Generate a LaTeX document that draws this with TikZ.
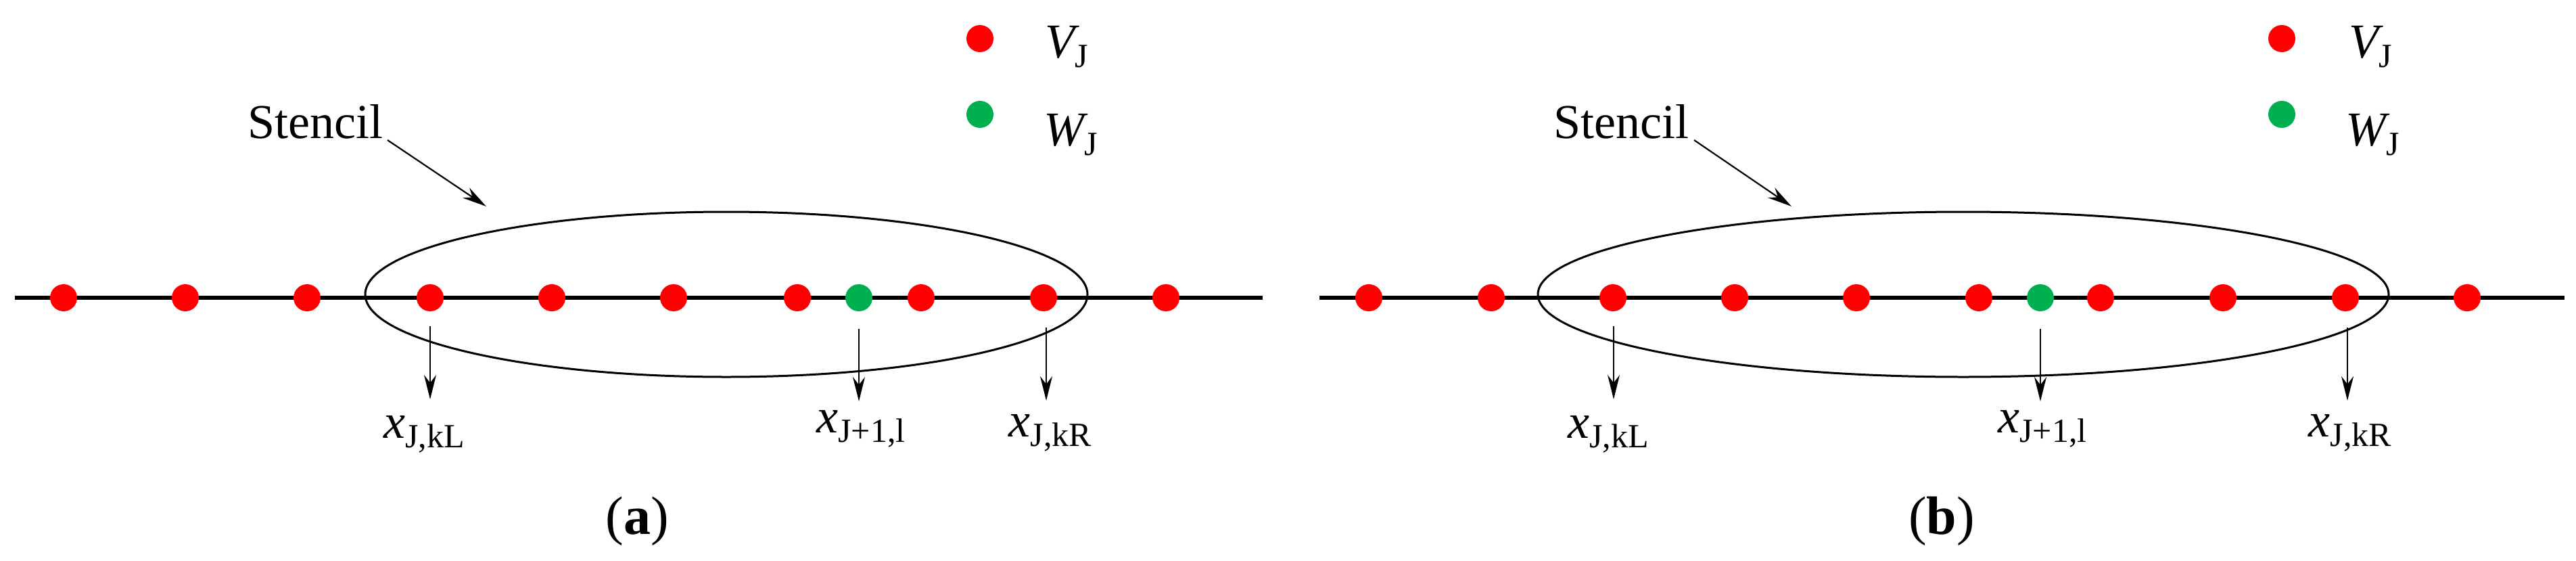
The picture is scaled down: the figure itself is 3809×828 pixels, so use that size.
\documentclass[tikz,border=0pt]{standalone}
\usepackage{fontspec}
\setmainfont{Liberation Serif}
\usetikzlibrary{arrows.meta}
\definecolor{dotred}{RGB}{255,0,0}
\definecolor{dotgreen}{RGB}{0,176,80}
\newcommand{\lbl}[2]{{\itshape #1}\raisebox{-14pt}{\fontsize{50}{55}\selectfont #2}}
\begin{document}
\begin{tikzpicture}[x=1pt,y=-1pt,
  rdot/.style={circle,fill=dotred,inner sep=0pt,minimum size=40pt},
  gdot/.style={circle,fill=dotgreen,inner sep=0pt,minimum size=40pt},
  axis/.style={line width=6pt},
  stencilring/.style={line width=3pt},
  ptr/.style={line width=2.2pt,-{Stealth[length=36pt,width=18pt]}},
  txt/.style={font=\fontsize{72}{80}\selectfont,inner sep=0pt},
  capt/.style={font=\fontsize{80}{90}\selectfont,inner sep=0pt}]
\useasboundingbox (0,0) rectangle (3809,828);
% ---------- panel (a)
\coordinate (aL) at (22,440); \coordinate (aR) at (1867,440);
\draw[axis] (aL) -- (aR);
\draw[stencilring] (1074,435) ellipse [x radius=534,y radius=122];
\foreach \x [count=\i] in {94,274,454,636,816,996,1179,1362,1543,1724}
  \node[rdot] (a\i) at (\x,440) {};
\node[gdot] (ag) at (1270,440) {};
\coordinate (aa1) at (636,482); \coordinate (aa2) at (636,590);
\coordinate (ag1) at (1270,486); \coordinate (ag2) at (1270,593);
\coordinate (ar1) at (1547,484); \coordinate (ar2) at (1547,592);
\draw[ptr] (aa1) -- (aa2); \draw[ptr] (ag1) -- (ag2); \draw[ptr] (ar1) -- (ar2);
\node[txt] (axl) at (627,642) {\lbl{x}{J,kL}};
\node[txt] (axg) at (1273,634) {\lbl{x}{J\textup{+1},l}};
\node[txt] (axr) at (1553,640) {\lbl{x}{J,kR}};
\node[txt] (ast) at (466,180) {Stencil};
\coordinate (asa) at (573,207); \coordinate (asb) at (719,305);
\draw[ptr] (asa) -- (asb);
\node[rdot] (alv) at (1449,57) {};
\node[txt] (alvt) at (1577,69) {\lbl{V}{J}};
\node[gdot] (alw) at (1449,169) {};
\node[txt] (alwt) at (1583,199) {\lbl{W}{J}};
\node[capt] (acap) at (942,770) {(\textbf{a})};
% ---------- panel (b)
\coordinate (bL) at (1951,440); \coordinate (bR) at (3792,440);
\draw[axis] (bL) -- (bR);
\draw[stencilring] (2903,435) ellipse [x radius=629,y radius=122];
\foreach \x [count=\i] in {2024,2205,2385,2565,2745,2926,3106,3287,3468,3648}
  \node[rdot] (b\i) at (\x,440) {};
\node[gdot] (bg) at (3017,440) {};
\coordinate (ba1) at (2386,482); \coordinate (ba2) at (2386,590);
\coordinate (bg1) at (3017,486); \coordinate (bg2) at (3017,593);
\coordinate (br1) at (3471,484); \coordinate (br2) at (3471,592);
\draw[ptr] (ba1) -- (ba2); \draw[ptr] (bg1) -- (bg2); \draw[ptr] (br1) -- (br2);
\node[txt] (bxl) at (2378,642) {\lbl{x}{J,kL}};
\node[txt] (bxg) at (3020,634) {\lbl{x}{J\textup{+1},l}};
\node[txt] (bxr) at (3475,640) {\lbl{x}{J,kR}};
\node[txt] (bst) at (2397,180) {Stencil};
\coordinate (bsa) at (2505,207); \coordinate (bsb) at (2649,305);
\draw[ptr] (bsa) -- (bsb);
\node[rdot] (blv) at (3374,57) {};
\node[txt] (blvt) at (3505,69) {\lbl{V}{J}};
\node[gdot] (blw) at (3374,169) {};
\node[txt] (blwt) at (3508,199) {\lbl{W}{J}};
\node[capt] (bcap) at (2871,770) {(\textbf{b})};
\end{tikzpicture}
\end{document}
